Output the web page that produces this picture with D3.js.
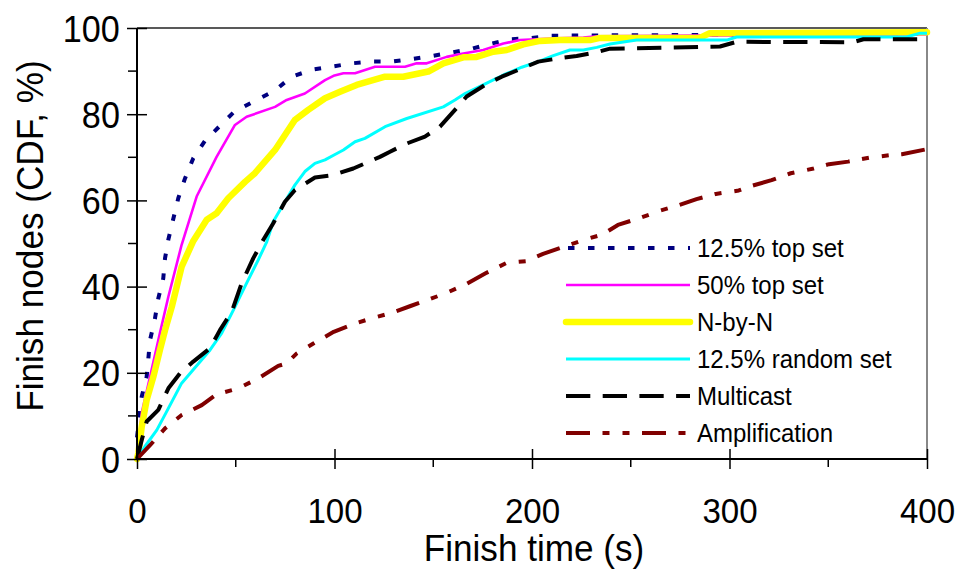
<!DOCTYPE html>
<html>
<head>
<meta charset="utf-8">
<script src="https://cdn.jsdelivr.net/npm/d3@7"></script>
<style>
  html, body { margin: 0; padding: 0; background: #fff; }
  svg { display: block; font-family: "Liberation Sans", Arial, sans-serif; }
</style>
</head>
<body>
<svg id="chart" width="959" height="570"></svg>
<script>
// Finish-time CDFs, points as [seconds, percent]
const topSet125 = [[0,5],[2.4,14.5],[4.9,19.1],[6.6,27.6],[9.1,32.6],[10.8,37.3],[13.3,41.9],[14.2,46.6],[15.9,51],[20.9,60.5],[24.3,65.1],[28.5,69.8],[34.4,73.8],[42,77.3],[49.3,80.6],[59.7,83.1],[69.9,85.5],[78.3,88.7],[88.5,90.3],[98,91],[108.7,91.8],[118.8,92.2],[129,92.2],[139.1,92.8],[149.2,93.5],[159.3,94.3],[168.6,95.1],[178.7,96.3],[188.9,97.4],[199,97.6],[209,98.2],[240,98.3],[300,98.4],[400,98.6]];
const topSet50 = [[0,0],[2.4,10.7],[6.6,19.1],[11.6,29.2],[15.9,37.7],[22.6,49.7],[30.2,60.9],[40.3,70.1],[49.6,77.5],[55.5,79.4],[69.9,81.7],[75.8,83.3],[85,84.8],[95.2,87.9],[100,89],[104.5,89.5],[110.4,89.5],[120.5,91],[135.7,91],[141.6,91.8],[146.7,91.8],[156.8,93.3],[165.2,94.1],[175.3,94.9],[185.5,96.4],[193.9,97.2],[212.5,97.6],[226,97.8],[232.8,98.1],[300,98.3],[400,98.5]];
const nByN = [[0,0],[0.7,1.4],[2.4,7.5],[4.9,13.7],[8.3,19.1],[11.6,25.3],[14.2,29.9],[17.6,35.3],[22.6,44.6],[28.5,50.6],[35.3,55.5],[40.3,57],[46.2,60.5],[54.7,64.3],[59.7,66.3],[69.9,71.7],[80,78.7],[86.7,81],[95.2,83.7],[102.8,85.2],[111.2,86.8],[125.6,88.7],[134.8,88.7],[147.5,89.9],[155.1,91.8],[165.2,93.2],[172,93.3],[180.4,94.5],[187.2,94.9],[195.6,96.2],[204,97],[214.2,97.2],[229.4,97.2],[234.4,97.7],[285,97.7],[290,98.8],[400,99]];
const randomSet125 = [[0,0],[4,2.9],[10,6.7],[15,11],[22.6,17.6],[27.7,20.3],[37,25.3],[42.9,29.2],[49.6,35.3],[55.5,40.8],[61.4,46.2],[65.7,50.4],[69,55.1],[74.9,59.7],[80,63.6],[85,66.7],[90.1,68.6],[95.2,69.4],[100,70.6],[104.5,71.7],[110.4,73.6],[115.4,74.4],[125.6,77.1],[136.6,79],[155.1,81.7],[161,83.3],[166.1,84.8],[177.1,87.2],[185.5,89.1],[194.8,90.9],[203.2,92.2],[210.8,93.6],[219.2,94.9],[226,94.9],[232.8,95.5],[239.5,96.3],[253,97.2],[298.6,97.2],[303.6,97.9],[389.7,97.9],[396.5,98.8],[400,98.8]];
const multicast = [[0,0],[2.4,4.4],[4.9,8.7],[10.8,11.4],[15.9,16.4],[21.8,19.9],[28.5,22.6],[37,25.7],[42,29.9],[48,34.2],[53,40.8],[58.9,46.6],[63.9,50.8],[69,54.7],[74.9,59.7],[80,62.4],[90.1,65.3],[99.4,65.9],[109.5,67.4],[123,70.1],[128.1,71.3],[136.6,73.2],[145.8,74.8],[153.4,77.1],[161,81],[166.9,84.1],[176.2,86.8],[184.7,88.7],[194.8,90.6],[203.2,92.2],[214.2,93],[222.6,93.5],[232.8,94.4],[239.5,95.2],[295.2,95.7],[303.6,96.8],[362.5,96.7],[367.8,97.4],[400,97.4]];
const amplification = [[0,0],[6.6,3.2],[14.2,7.1],[22.6,10.2],[32.8,12.5],[40.3,15],[51.3,16.4],[61.4,18.7],[71.5,21.6],[75.8,22.2],[80.9,24.5],[89.3,26.8],[99.6,29.5],[109.4,31.3],[120,32.8],[128.8,33.9],[138.5,35.5],[148.3,37.1],[157,38.6],[166.7,40.6],[176.5,43.1],[187.1,45.5],[196.8,45.9],[205.6,47.6],[216.3,49.3],[226,50.8],[235.8,52.1],[243.5,54.3],[255.1,56],[264.8,57.6],[273.6,58.8],[283.3,60.3],[293.1,61.5],[304.7,62.3],[311.5,63.4],[321.3,64.7],[331,66.3],[342.6,67.4],[350.4,68.4],[360.1,69],[370.8,69.9],[381.5,70.5],[387.3,70.7],[400,71.9]];

const seriesNames = ["12.5% top set", "50% top set", "N-by-N", "12.5% random set", "Multicast", "Amplification"];
const xTicks = [0, 100, 200, 300, 400];
const xMinorTicks = [50, 150, 250, 350];
const yTicks = [0, 20, 40, 60, 80, 100];
const yMinorTicks = [10, 30, 50, 70, 90];
const xTitle = "Finish time (s)";
const yTitle = "Finish nodes (CDF, %)";

// drawing styles, in legend order (first series is painted first)
const styles = [
  { color: "#000080", width: 4,   dash: "6.5,13.5", cap: "butt" },
  { color: "#FF00FF", width: 2.6, dash: null,       cap: "butt" },
  { color: "#FFFF00", width: 6.5, dash: null,       cap: "round" },
  { color: "#00FFFF", width: 3,   dash: null,       cap: "butt" },
  { color: "#000000", width: 4,   dash: "24.3,12.4", cap: "butt" },
  { color: "#800000", width: 4,   dash: "24,12.5,7,13,7,12.5", cap: "butt" }
];
const seriesData = [topSet125, topSet50, nByN, randomSet125, multicast, amplification];

const svg = d3.select("#chart");
const plotLeft = 137, plotRight = 927, plotTop = 28, plotBottom = 459;

const x = d3.scaleLinear().domain([0, 400]).range([plotLeft, plotRight]);
const y = d3.scaleLinear().domain([0, 100]).range([plotBottom, plotTop]);

// plot frame: top and right edges
svg.append("line").attr("x1", plotLeft).attr("x2", plotRight).attr("y1", plotTop).attr("y2", plotTop)
  .attr("stroke", "#222").attr("stroke-width", 1.5);
svg.append("line").attr("x1", plotRight).attr("x2", plotRight).attr("y1", plotTop).attr("y2", plotBottom)
  .attr("stroke", "#888").attr("stroke-width", 2);

// series lines
const line = d3.line().x(d => x(d[0])).y(d => y(d[1]));
const plot = svg.append("g");
seriesData.forEach((data, i) => {
  const s = styles[i];
  plot.append("path")
    .datum(data)
    .attr("d", line)
    .attr("fill", "none")
    .attr("stroke", s.color)
    .attr("stroke-width", s.width)
    .attr("stroke-linejoin", "round")
    .attr("stroke-linecap", s.cap)
    .attr("stroke-dasharray", s.dash);
});

// x axis
const xAxis = svg.append("g").attr("transform", `translate(0,${plotBottom})`)
  .call(d3.axisBottom(x).tickValues(xTicks).tickSize(10).tickPadding(0));
xAxis.select(".domain").attr("stroke", "#000").attr("stroke-width", 2).attr("d", `M${plotLeft},0H${plotRight}`);
xAxis.selectAll(".tick line").attr("y1", -10).attr("y2", 10).attr("stroke", "#000").attr("stroke-width", 1.5);
xAxis.selectAll(".tick text")
  .attr("y", 64).attr("dy", null)
  .attr("transform", "scale(0.92,1)")
  .attr("fill", "#000").style("font-size", "36px").style("font-family", "Liberation Sans, Arial, sans-serif");
svg.append("g").selectAll("line").data(xMinorTicks).join("line")
  .attr("x1", d => x(d)).attr("x2", d => x(d))
  .attr("y1", plotBottom).attr("y2", plotBottom + 8)
  .attr("stroke", "#000").attr("stroke-width", 1.5);

// y axis
const yAxis = svg.append("g").attr("transform", `translate(${plotLeft},0)`)
  .call(d3.axisLeft(y).tickValues(yTicks).tickSize(10).tickPadding(0));
yAxis.select(".domain").attr("stroke", "#000").attr("stroke-width", 2).attr("d", `M0,${plotTop}V${plotBottom}`);
yAxis.selectAll(".tick line").attr("x1", -10).attr("x2", 10).attr("stroke", "#000").attr("stroke-width", 1.5);
yAxis.selectAll(".tick text")
  .attr("x", -18).attr("dy", null).attr("y", 13)
  .attr("transform", "scale(0.95,1)")
  .attr("fill", "#000").style("font-size", "36px").style("font-family", "Liberation Sans, Arial, sans-serif");
svg.append("g").selectAll("line").data(yMinorTicks).join("line")
  .attr("x1", plotLeft - 9).attr("x2", plotLeft)
  .attr("y1", d => y(d)).attr("y2", d => y(d))
  .attr("stroke", "#000").attr("stroke-width", 1.5);

// axis titles
svg.append("g").attr("transform", "translate(534,561) scale(0.95,1)")
  .append("text").attr("text-anchor", "middle")
  .style("font-size", "37px").attr("fill", "#000").text(xTitle);
svg.append("g").attr("transform", "translate(43,236) rotate(-90) scale(0.95,1)")
  .append("text").attr("text-anchor", "middle")
  .style("font-size", "37px").attr("fill", "#000").text(yTitle);

// legend
const legend = svg.append("g");
seriesNames.forEach((name, i) => {
  const s = styles[i];
  const ry = 248 + i * 37;
  legend.append("line")
    .attr("x1", 566).attr("x2", 690).attr("y1", ry).attr("y2", ry)
    .attr("stroke", s.color).attr("stroke-width", s.width)
    .attr("stroke-linecap", s.cap).attr("stroke-dasharray", s.dash)
    .attr("stroke-dashoffset", i === 0 ? -2 : 0);
  legend.append("g").attr("transform", `translate(697,${ry + 9}) scale(0.96,1)`)
    .append("text").style("font-size", "25px").attr("fill", "#000").text(name);
});
</script>
</body>
</html>
